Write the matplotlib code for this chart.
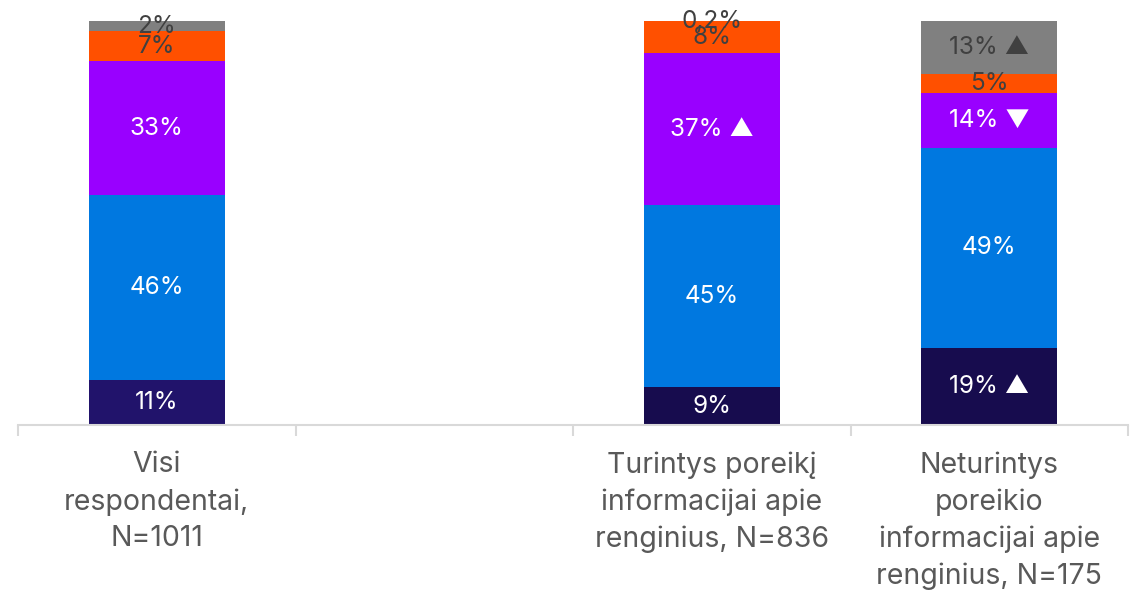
import numpy as np
import matplotlib.pyplot as plt

categories = ['Visi\nrespondentai,\nN=1011', '',
              'Turintys poreikį\ninformacijai apie\nrenginius, N=836',
              'Neturintys\nporeikio\ninformacijai apie\nrenginius, N=175']

# segment heights (bottom -> top), empty slot = 0
s1 = [11.1, 0, 9.4, 19.1]
s2 = [45.8, 0, 45.0, 49.5]
s3 = [33.2, 0, 37.6, 13.6]
s4 = [7.4, 0, 7.9, 4.7]
s5 = [2.5, 0, 0.2, 13.1]

lab1 = ['11%', '', '9%', '19% ▲']
lab2 = ['46%', '', '45%', '49%']
lab3 = ['33%', '', '37% ▲', '14% ▼']
lab4 = ['7%', '', '8%', '5%']
lab5 = ['2%', '', '0,2%', '13% ▲']

col1 = ['#21136b', '#21136b', '#170c4e', '#170c4e']
colors = ['#0078e0', '#9900ff', '#ff5000', '#808080']
txt_cols = ['white', 'white', 'white', '#404040', '#404040']

plt.rcParams['font.family'] = ['Inter', 'DejaVu Sans']

fig = plt.figure(figsize=(11.34, 5.94), dpi=100)
ax = fig.add_axes([18 / 1134, 169 / 594, 1110 / 1134, 404 / 594])

x = np.arange(len(categories))
w = 0.49
series = [s1, s2, s3, s4, s5]
labels = [lab1, lab2, lab3, lab4, lab5]
bottom = np.zeros(len(x))
for i, (vals, labs) in enumerate(zip(series, labels)):
    vals = np.array(vals, dtype=float)
    c = col1 if i == 0 else colors[i - 1]
    ax.bar(x, vals, w, bottom=bottom, color=c, edgecolor='none')
    for xi, v, b, lab in zip(x, vals, bottom, labs):
        if lab:
            ax.text(xi, b + v / 2, lab, ha='center', va='center',
                    fontsize=17.5, color=txt_cols[i])
    bottom += vals

ax.set_xlim(-0.5, 3.5)
ax.set_ylim(0, 100)
ax.set_yticks([])
for s in ['top', 'right', 'left']:
    ax.spines[s].set_visible(False)
ax.spines['bottom'].set_color('#d9d9d9')
ax.spines['bottom'].set_linewidth(1.5)

ax.set_xticks(x)
ax.set_xticklabels(categories, fontsize=20.5, color='#595959', linespacing=1.45,
                   va='top')
ax.tick_params(axis='x', which='major', length=0, pad=19)
ax.set_xticks(np.arange(-0.5, 4, 1), minor=True)
ax.tick_params(axis='x', which='minor', length=8, width=1.5, color='#d9d9d9')

fig.savefig('out.png', dpi=100)
